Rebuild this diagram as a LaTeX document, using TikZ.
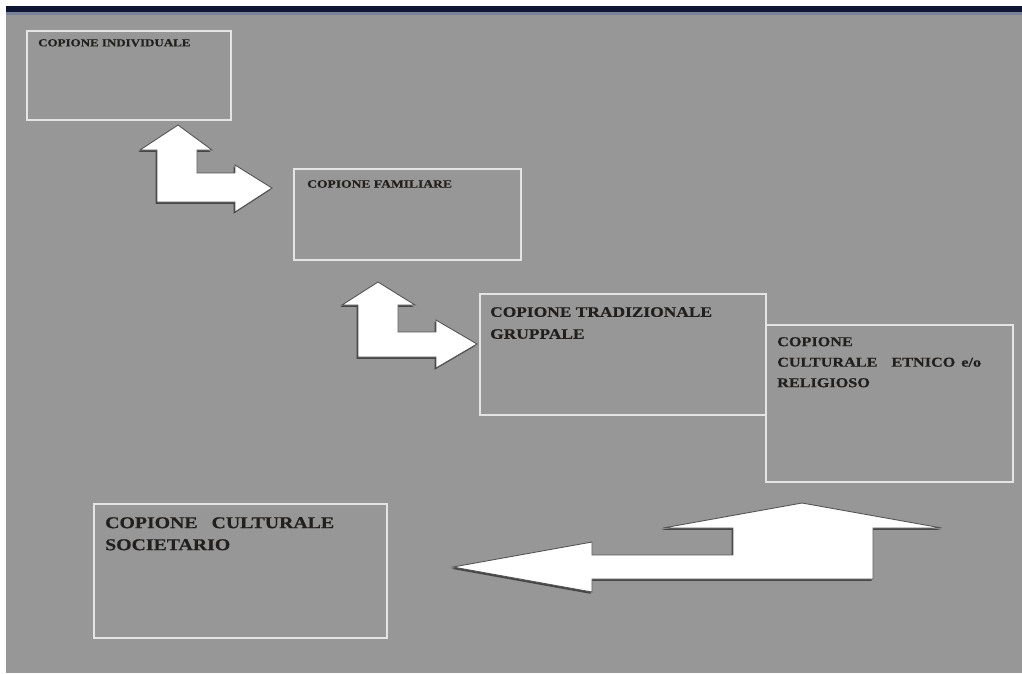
\documentclass[tikz,border=0pt]{standalone}
\usepackage{fontspec}
\setmainfont{Liberation Serif}
\newfontfamily\widefont[FakeStretch=1.2,FakeBold=0.6]{Liberation Serif Bold}
\definecolor{bg}{RGB}{151,151,151}
\definecolor{navy}{RGB}{14,22,52}
\definecolor{navylight}{RGB}{120,130,155}
\definecolor{boxline}{RGB}{228,228,228}
\definecolor{txt}{RGB}{34,32,30}
\definecolor{arrowline}{RGB}{85,85,85}
\definecolor{shadowc}{RGB}{70,70,70}
\begin{document}
\begin{tikzpicture}[x=1pt,y=-1pt,
  box/.style={draw=boxline, line width=2.4pt, anchor=north west, inner sep=0pt},
  lbl/.style={anchor=north west, inner sep=0pt, text=txt, align=left},
  bigarrow/.style={fill=white, draw=arrowline, line width=0.9pt, line join=miter},
  arrowshadow/.style={fill=shadowc}]
% background
\fill[white] (0,0) rectangle (1022,673);
\fill[bg] (6,12) rectangle (1022,673);
\fill[navy] (6,6) rectangle (1022,12);
\fill[navylight] (6,12) rectangle (1022,15);
\useasboundingbox (0,0) rectangle (1022,673);

% boxes
\node[box, minimum width=204pt, minimum height=89pt]  (b1) at (26,30)  {};
\node[box, minimum width=227pt, minimum height=91pt]  (b2) at (293,168) {};
\node[box, minimum width=286pt, minimum height=121pt] (b3) at (479,293) {};
\node[box, minimum width=247pt, minimum height=157pt] (b4) at (765,324) {};
\node[box, minimum width=293pt, minimum height=134pt] (b5) at (93,503) {};

% labels
\node[lbl, font=\widefont\fontsize{10.8}{13}\selectfont] (t1) at (38,39) {COPIONE INDIVIDUALE};
\node[lbl, font=\widefont\fontsize{11.3}{13}\selectfont] (t2) at (307,180) {COPIONE FAMILIARE};
\node[lbl, font=\widefont\fontsize{14.5}{22}\selectfont] (t3) at (490,307) {COPIONE TRADIZIONALE\\GRUPPALE};
\node[lbl, font=\widefont\fontsize{13.5}{20.5}\selectfont] (t4) at (777,337) {COPIONE\\CULTURALE\hspace{14pt}ETNICO\hspace{6pt}e/o\\RELIGIOSO};
\node[lbl, font=\widefont\fontsize{16.5}{22}\selectfont] (t5) at (105,517) {COPIONE\hspace{14pt}CULTURALE\\SOCIETARIO};

% arrow 1
\path[arrowshadow, shift={(-1.5,1.8)}] (178,125) -- (212,150) -- (197,150) -- (197,173) -- (235,173) -- (235,165) -- (272,188) -- (235,212) -- (235,202) -- (157,202) -- (157,150) -- (140,150) -- cycle;
\path[bigarrow] (178,125) -- (212,150) -- (197,150) -- (197,173) -- (235,173) -- (235,165) -- (272,188) -- (235,212) -- (235,202) -- (157,202) -- (157,150) -- (140,150) -- cycle;

% arrow 2
\path[arrowshadow, shift={(-1.5,1.8)}] (378,282) -- (415,305) -- (398,305) -- (398,332) -- (436,332) -- (436,320) -- (477,344) -- (436,368) -- (436,357) -- (358,357) -- (358,305) -- (342,305) -- cycle;
\path[bigarrow] (378,282) -- (415,305) -- (398,305) -- (398,332) -- (436,332) -- (436,320) -- (477,344) -- (436,368) -- (436,357) -- (358,357) -- (358,305) -- (342,305) -- cycle;

% arrow 3
\path[arrowshadow, shift={(-1.5,1.8)}] (453,567) -- (592,542) -- (592,555) -- (733,555) -- (733,528) -- (663,528) -- (802,503) -- (942,528) -- (873,528) -- (873,579) -- (592,579) -- (592,592) -- cycle;
\path[bigarrow] (453,567) -- (592,542) -- (592,555) -- (733,555) -- (733,528) -- (663,528) -- (802,503) -- (942,528) -- (873,528) -- (873,579) -- (592,579) -- (592,592) -- cycle;
\end{tikzpicture}
\end{document}
